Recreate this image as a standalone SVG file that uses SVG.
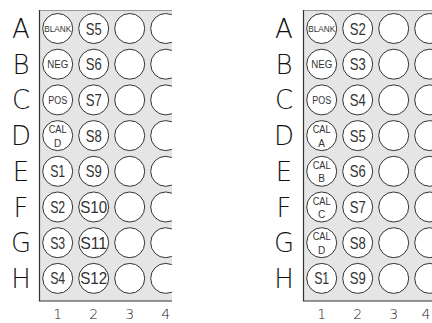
<svg xmlns="http://www.w3.org/2000/svg" width="432" height="323" viewBox="0 0 432 323">
<style>
.plate{fill:#e5e5e5;stroke:none}
.edge{stroke:#333;stroke-width:1.2;fill:none}
.topedge{stroke:#999;stroke-width:1;fill:none}
.well{fill:#fff;stroke:#333;stroke-width:1}
.row{font-family:"DejaVu Sans","Liberation Sans",sans-serif;font-size:26px;fill:#111;text-anchor:middle;font-weight:200}
.col{font-family:"DejaVu Sans","Liberation Sans",sans-serif;font-size:14px;fill:#222;text-anchor:middle;font-weight:200}
.s{font-family:"Liberation Sans",sans-serif;font-size:17px;fill:#333;text-anchor:middle}
.sm{font-family:"Liberation Sans",sans-serif;font-size:10px;fill:#333;text-anchor:middle}
.xs{font-family:"Liberation Sans",sans-serif;font-size:8.5px;fill:#333;text-anchor:middle}
</style>
<defs>
<clipPath id="clipL"><rect x="0" y="0" width="172" height="323"/></clipPath>
<clipPath id="clipR"><rect x="264" y="0" width="172" height="323"/></clipPath>
<g id="wells">
<circle class="well" cx="57.7" cy="28.5" r="15"/><circle class="well" cx="93.7" cy="28.5" r="15"/><circle class="well" cx="129.7" cy="28.5" r="15"/><circle class="well" cx="165.7" cy="28.5" r="15"/>
<circle class="well" cx="57.7" cy="64.2" r="15"/><circle class="well" cx="93.7" cy="64.2" r="15"/><circle class="well" cx="129.7" cy="64.2" r="15"/><circle class="well" cx="165.7" cy="64.2" r="15"/>
<circle class="well" cx="57.7" cy="99.9" r="15"/><circle class="well" cx="93.7" cy="99.9" r="15"/><circle class="well" cx="129.7" cy="99.9" r="15"/><circle class="well" cx="165.7" cy="99.9" r="15"/>
<circle class="well" cx="57.7" cy="135.6" r="15"/><circle class="well" cx="93.7" cy="135.6" r="15"/><circle class="well" cx="129.7" cy="135.6" r="15"/><circle class="well" cx="165.7" cy="135.6" r="15"/>
<circle class="well" cx="57.7" cy="171.3" r="15"/><circle class="well" cx="93.7" cy="171.3" r="15"/><circle class="well" cx="129.7" cy="171.3" r="15"/><circle class="well" cx="165.7" cy="171.3" r="15"/>
<circle class="well" cx="57.7" cy="207" r="15"/><circle class="well" cx="93.7" cy="207" r="15"/><circle class="well" cx="129.7" cy="207" r="15"/><circle class="well" cx="165.7" cy="207" r="15"/>
<circle class="well" cx="57.7" cy="242.7" r="15"/><circle class="well" cx="93.7" cy="242.7" r="15"/><circle class="well" cx="129.7" cy="242.7" r="15"/><circle class="well" cx="165.7" cy="242.7" r="15"/>
<circle class="well" cx="57.7" cy="278.4" r="15"/><circle class="well" cx="93.7" cy="278.4" r="15"/><circle class="well" cx="129.7" cy="278.4" r="15"/><circle class="well" cx="165.7" cy="278.4" r="15"/>
</g>
<g id="frame">
<rect class="plate" x="39.5" y="10" width="140" height="291"/>
<line class="topedge" x1="39.5" y1="10.5" x2="180" y2="10.5"/>
<polyline class="edge" points="39.5,10 39.5,301 180,301"/>
</g>
</defs>

<g id="plate-left" clip-path="url(#clipL)">
<use href="#frame"/>
<use href="#wells"/>
</g>
<g id="labels-left">
<text class="row" x="21" y="38">A</text>
<text class="row" x="21" y="73.7">B</text>
<text class="row" x="21" y="109.4">C</text>
<text class="row" x="21" y="145.1">D</text>
<text class="row" x="21" y="180.8">E</text>
<text class="row" x="21" y="216.5">F</text>
<text class="row" x="21" y="252.2">G</text>
<text class="row" x="21" y="287.9">H</text>
<text class="col" x="57.7" y="319">1</text>
<text class="col" x="93.7" y="319">2</text>
<text class="col" x="129.7" y="319">3</text>
<text class="col" x="165.7" y="319">4</text>
</g>
<g id="text-left">
<text class="xs" x="57.7" y="31.5" textLength="27" lengthAdjust="spacingAndGlyphs">BLANK</text>
<text class="sm" x="57.7" y="67.8" textLength="21" lengthAdjust="spacingAndGlyphs">NEG</text>
<text class="sm" x="57.7" y="103.5" textLength="19" lengthAdjust="spacingAndGlyphs">POS</text>
<text class="sm" x="57.7" y="133.2" textLength="18" lengthAdjust="spacingAndGlyphs">CAL</text>
<text class="sm" x="57.7" y="146.5">D</text>
<text class="s" x="57.7" y="177.3" textLength="15" lengthAdjust="spacingAndGlyphs">S1</text>
<text class="s" x="57.7" y="213" textLength="15" lengthAdjust="spacingAndGlyphs">S2</text>
<text class="s" x="57.7" y="248.7" textLength="15" lengthAdjust="spacingAndGlyphs">S3</text>
<text class="s" x="57.7" y="284.4" textLength="15" lengthAdjust="spacingAndGlyphs">S4</text>
<text class="s" x="93.7" y="34.5" textLength="16" lengthAdjust="spacingAndGlyphs">S5</text>
<text class="s" x="93.7" y="70.2" textLength="16" lengthAdjust="spacingAndGlyphs">S6</text>
<text class="s" x="93.7" y="105.9" textLength="16" lengthAdjust="spacingAndGlyphs">S7</text>
<text class="s" x="93.7" y="141.6" textLength="16" lengthAdjust="spacingAndGlyphs">S8</text>
<text class="s" x="93.7" y="177.3" textLength="16" lengthAdjust="spacingAndGlyphs">S9</text>
<text class="s" x="93.7" y="213" textLength="27" lengthAdjust="spacingAndGlyphs">S10</text>
<text class="s" x="93.7" y="248.7" textLength="27" lengthAdjust="spacingAndGlyphs">S11</text>
<text class="s" x="93.7" y="284.4" textLength="27" lengthAdjust="spacingAndGlyphs">S12</text>
</g>

<g id="plate-right" clip-path="url(#clipR)">
<use href="#frame" x="264"/>
<use href="#wells" x="264"/>
</g>
<g id="labels-right">
<text class="row" x="284" y="38">A</text>
<text class="row" x="284" y="73.7">B</text>
<text class="row" x="284" y="109.4">C</text>
<text class="row" x="284" y="145.1">D</text>
<text class="row" x="284" y="180.8">E</text>
<text class="row" x="284" y="216.5">F</text>
<text class="row" x="284" y="252.2">G</text>
<text class="row" x="284" y="287.9">H</text>
<text class="col" x="321.7" y="319">1</text>
<text class="col" x="357.7" y="319">2</text>
<text class="col" x="393.7" y="319">3</text>
<text class="col" x="426" y="319">4</text>
</g>
<g id="text-right">
<text class="xs" x="321.7" y="31.5" textLength="27" lengthAdjust="spacingAndGlyphs">BLANK</text>
<text class="sm" x="321.7" y="67.8" textLength="21" lengthAdjust="spacingAndGlyphs">NEG</text>
<text class="sm" x="321.7" y="103.5" textLength="19" lengthAdjust="spacingAndGlyphs">POS</text>
<text class="sm" x="321.7" y="133.2" textLength="18" lengthAdjust="spacingAndGlyphs">CAL</text>
<text class="sm" x="321.7" y="146.5">A</text>
<text class="sm" x="321.7" y="168.9" textLength="18" lengthAdjust="spacingAndGlyphs">CAL</text>
<text class="sm" x="321.7" y="182.2">B</text>
<text class="sm" x="321.7" y="204.6" textLength="18" lengthAdjust="spacingAndGlyphs">CAL</text>
<text class="sm" x="321.7" y="217.9">C</text>
<text class="sm" x="321.7" y="240.3" textLength="18" lengthAdjust="spacingAndGlyphs">CAL</text>
<text class="sm" x="321.7" y="253.6">D</text>
<text class="s" x="321.7" y="284.4" textLength="15" lengthAdjust="spacingAndGlyphs">S1</text>
<text class="s" x="357.7" y="34.5" textLength="16" lengthAdjust="spacingAndGlyphs">S2</text>
<text class="s" x="357.7" y="70.2" textLength="16" lengthAdjust="spacingAndGlyphs">S3</text>
<text class="s" x="357.7" y="105.9" textLength="16" lengthAdjust="spacingAndGlyphs">S4</text>
<text class="s" x="357.7" y="141.6" textLength="16" lengthAdjust="spacingAndGlyphs">S5</text>
<text class="s" x="357.7" y="177.3" textLength="16" lengthAdjust="spacingAndGlyphs">S6</text>
<text class="s" x="357.7" y="213" textLength="16" lengthAdjust="spacingAndGlyphs">S7</text>
<text class="s" x="357.7" y="248.7" textLength="16" lengthAdjust="spacingAndGlyphs">S8</text>
<text class="s" x="357.7" y="284.4" textLength="16" lengthAdjust="spacingAndGlyphs">S9</text>
</g>
</svg>
